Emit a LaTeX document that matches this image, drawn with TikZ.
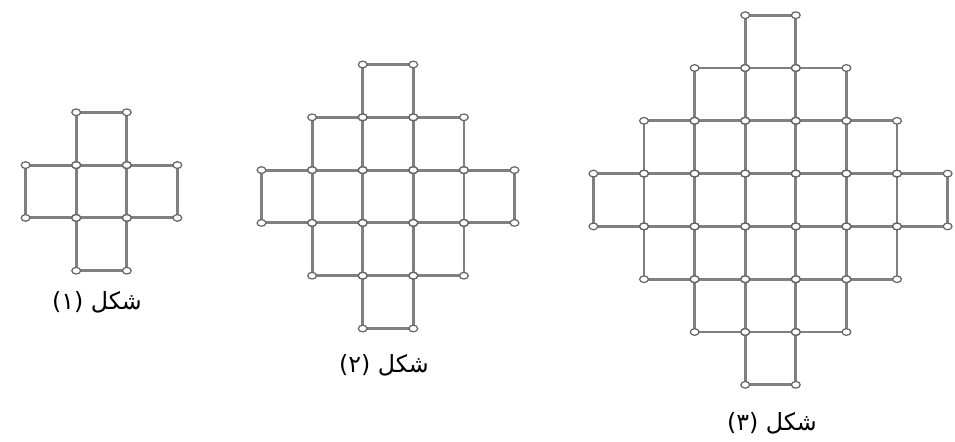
\documentclass[tikz,border=0pt]{standalone}
\usepackage{fontspec}
\newfontfamily\arabicfont[Script=Arabic]{DejaVu Sans}
\TeXXeTstate=1
\usetikzlibrary{positioning}

\begin{document}
\begin{tikzpicture}[x=0.02cm, y=-0.02cm,
  match/.style={draw=black!50, line width=1.6pt, line cap=round},
  head/.style={draw=black!60, fill=white, line width=0.7pt},
  caption/.style={font=\arabicfont\fontsize{13.5}{16}\selectfont, inner sep=0pt}]
\def\cw{50.6}
\def\ch{52.8}
\useasboundingbox (0,0) rectangle (955,442);

% matchsticks: squares with |i|+|j| <= n
\foreach \n/\cx/\cy in {1/101.5/191.5, 2/388/196.5, 3/770.5/200} {
  \foreach \i in {-\n,...,\n} {
    \foreach \j in {-\n,...,\n} {
      \pgfmathtruncatemacro{\dist}{abs(\i)+abs(\j)}
      \ifnum\dist>\n\else
        \pgfmathsetmacro{\xa}{\cx+(\i-0.5)*\cw}
        \pgfmathsetmacro{\ya}{\cy+(\j-0.5)*\ch}
        \draw[match] (\xa,\ya) rectangle ++(\cw,\ch);
      \fi
    }
  }
}

% match heads
\foreach \n/\cx/\cy in {1/101.5/191.5, 2/388/196.5, 3/770.5/200} {
  \foreach \i in {-\n,...,\n} {
    \foreach \j in {-\n,...,\n} {
      \pgfmathtruncatemacro{\dist}{abs(\i)+abs(\j)}
      \ifnum\dist>\n\else
        \pgfmathsetmacro{\xa}{\cx+(\i-0.5)*\cw}
        \pgfmathsetmacro{\ya}{\cy+(\j-0.5)*\ch}
        \foreach \u/\v in {0/0,1/0,0/1,1/1}
          \path[head] ({\xa+\u*\cw},{\ya+\v*\ch})
            ellipse[x radius=2.5pt, y radius=1.9pt];
      \fi
    }
  }
}

\node[caption] (fig1) at (97,302) {\beginR شكل (١)\endR};
\node[caption] (fig2) at (384,365) {\beginR شكل (٢)\endR};
\node[caption] (fig3) at (772,423) {\beginR شكل (٣)\endR};

\end{tikzpicture}
\end{document}
